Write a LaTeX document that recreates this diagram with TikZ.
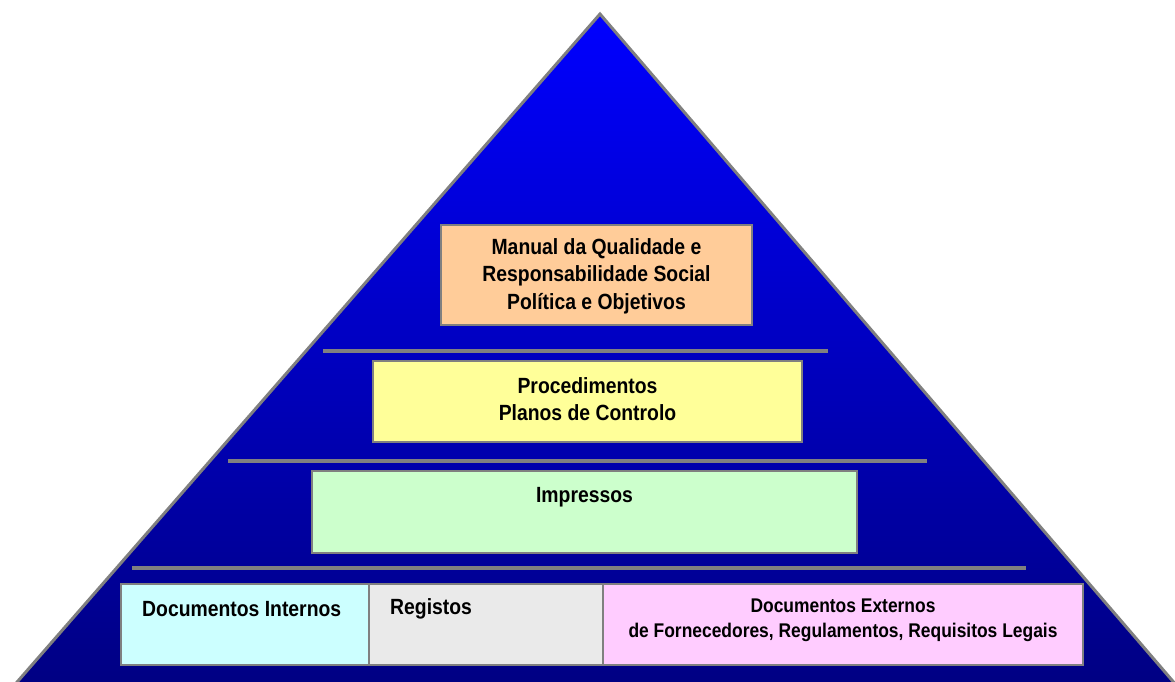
\documentclass[tikz,border=0pt]{standalone}
\usepackage{fontspec}
\setmainfont{Liberation Sans}[FakeStretch=0.88]
\definecolor{pyrtop}{RGB}{0,0,255}
\definecolor{pyrbot}{RGB}{0,0,128}
\definecolor{edgegray}{RGB}{128,128,128}
\definecolor{peach}{RGB}{255,204,153}
\definecolor{lyellow}{RGB}{255,255,153}
\definecolor{lgreen}{RGB}{204,255,204}
\definecolor{lcyan}{RGB}{204,255,255}
\definecolor{lgray}{RGB}{234,234,234}
\definecolor{lpink}{RGB}{255,204,255}
\begin{document}
\begin{tikzpicture}[x=1pt,y=-1pt,
  box/.style={draw=edgegray,line width=2pt,inner sep=0pt},
  sepline/.style={draw=edgegray,line width=3.3pt},
  lbl/.style={font=\bfseries\fontsize{22}{27.5}\selectfont,align=center,inner sep=0pt,text=black},
  slbl/.style={font=\bfseries\fontsize{19.8}{25}\selectfont,align=center,inner sep=0pt,text=black}]
\useasboundingbox (0,0) rectangle (1175,681);
\begin{scope}
  \clip (0,0) rectangle (1175,681);
  \shade[top color=pyrtop,bottom color=pyrbot,draw=edgegray,line width=3pt]
    (600,14) -- (1189,700) -- (1.4,700) -- cycle;
\end{scope}
% separators
\draw[sepline] (323,351) -- (828,351);
\draw[sepline] (228,461) -- (927,461);
\draw[sepline] (132,568) -- (1026,568);
% boxes
\node[box,fill=peach,minimum width=311pt,minimum height=100pt] (manual) at (596.5,275) {};
\node[box,fill=lyellow,minimum width=429pt,minimum height=81pt] (proc) at (587.5,401.5) {};
\node[box,fill=lgreen,minimum width=545pt,minimum height=82pt] (impr) at (584.5,512) {};
\node[box,fill=lcyan,minimum width=248pt,minimum height=81pt] (internos) at (245,624.5) {};
\node[box,fill=lgray,minimum width=234pt,minimum height=81pt] (registos) at (486,624.5) {};
\node[box,fill=lpink,minimum width=480pt,minimum height=81pt] (externos) at (843,624.5) {};
% texts
\node[lbl] (tmanual) at (596.5,276) {Manual da Qualidade e\\Responsabilidade Social\\Política e Objetivos};
\node[lbl] (tproc) at (587.5,399) {Procedimentos\\Planos de Controlo};
\node[lbl] (timpr) at (584.5,497) {Impressos};
\node[lbl,anchor=west] (tint) at (142,609) {Documentos Internos};
\node[lbl,anchor=west] (treg) at (390,609) {Registos};
\node[slbl] (text) at (843,620) {Documentos Externos\\de Fornecedores, Regulamentos, Requisitos Legais};
\end{tikzpicture}
\end{document}
